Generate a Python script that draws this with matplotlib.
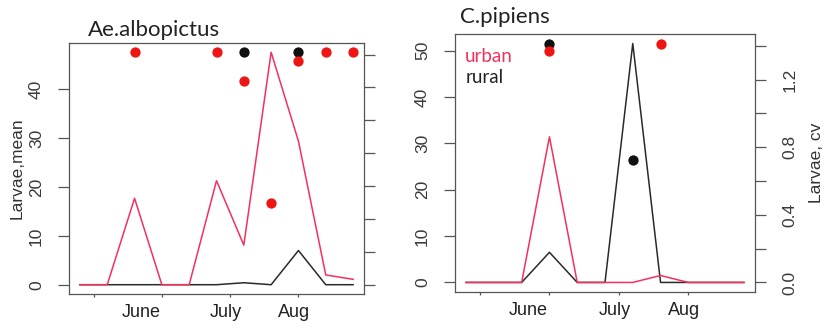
import numpy as np
import matplotlib
matplotlib.use("Agg")
import matplotlib.pyplot as plt

plt.rcParams['font.family'] = ['Liberation Sans', 'DejaVu Sans']

nan = np.nan
sample = list(range(1, 12))

# Ae.albopictus
albo_urban_mean = [0, 0, 17.7, 0, 0, 21.3, 8.1, 47.6, 29.4, 2.0, 1.1]
albo_rural_mean = [0, 0, 0, 0, 0, 0, 0.4, 0, 7.0, 0, 0]
albo_urban_cv = [nan, nan, 1.414, nan, nan, 1.414, 1.238, 0.5, 1.364, 1.414, 1.414]
albo_rural_cv = [nan, nan, nan, nan, nan, nan, 1.414, nan, 1.414, nan, nan]

# C.pipiens
pip_urban_mean = [0, 0, 0, 31.4, 0, 0, 0, 1.5, 0, 0, 0]
pip_rural_mean = [0, 0, 0, 6.5, 0, 0, 51.5, 0, 0, 0, 0]
pip_urban_cv = [nan, nan, nan, 1.367, nan, nan, nan, 1.412, nan, nan, nan]
pip_rural_cv = [nan, nan, nan, 1.414, nan, nan, 0.726, nan, nan, nan, nan]

month_ticks = [1.5, 4, 6.5, 9]
month_pos = [3.25, 6.35, 8.85]
month_labels = ["June", "July", "Aug"]
cv_ticks = [0.0, 0.2, 0.4, 0.6, 0.8, 1.0, 1.2, 1.4]

line_red = "#f4305c"
dot_red = "#ee1515"
dark = "#2a2a2a"
axcol = "#555555"

fig = plt.figure(figsize=(8.26, 3.32), dpi=100)


def panel(rect, title, title_xy, urban_m, rural_m, urban_cv, rural_cv,
          yticks, cv_labels, ylab=None, cvlab=None, legend=False):
    ax = fig.add_axes(rect)
    ax.plot(sample, rural_m, color=dark, lw=1.1)
    ax.plot(sample, urban_m, color=line_red, lw=1.1)
    top = max(max(urban_m), max(rural_m))
    ax.set_xlim(0.6, 11.4)
    ax.set_ylim(-0.04 * top, top * 1.04)
    ax.set_yticks(yticks)
    ax.set_yticklabels([str(t) for t in yticks], rotation=90, va='center')
    ax.tick_params(axis='y', length=8, width=0.9, color=axcol, pad=10,
                   labelsize=12.5, labelcolor='#3a3a3a')
    ax.set_xticks(month_ticks)
    ax.set_xticklabels([])
    ax.tick_params(axis='x', length=2, width=0.9, color=axcol)
    for m, lab in zip(month_pos, month_labels):
        ax.annotate(lab, (m, 0), xycoords=('data', 'axes fraction'),
                    xytext=(0, -7), textcoords='offset points',
                    ha='center', va='top', fontsize=13, color='#222222')
    for s in ax.spines.values():
        s.set_color(axcol)
        s.set_linewidth(0.9)
    if ylab:
        ax.set_ylabel(ylab, fontsize=12.5, labelpad=3, color='#333333')

    ax2 = ax.twinx()
    ax2.scatter(sample, rural_cv, s=55, color='#111111', zorder=3, lw=0)
    ax2.scatter(sample, urban_cv, s=55, color=dot_red, zorder=4, lw=0)
    ax2.set_ylim(-0.04 * 1.414, 1.414 * 1.04)
    ax2.set_yticks(cv_ticks)
    if cv_labels:
        ax2.set_yticklabels(["0.0" if t == 0 else (f"{t:.1f}" if round(t * 10) % 4 == 0 else "")
                             for t in cv_ticks], rotation=90, va='center')
    else:
        ax2.set_yticklabels([])
    ax2.tick_params(axis='y', length=8, width=0.9, color=axcol, pad=12,
                    labelsize=12.5, labelcolor='#3a3a3a')
    for s in ax2.spines.values():
        s.set_visible(False)
    if cvlab:
        ax2.set_ylabel(cvlab, fontsize=12.5, labelpad=8, color='#333333')

    fig.text(title_xy[0], title_xy[1], title, fontsize=16, family='Lato',
             color='#222222', ha='left', va='baseline')
    if legend:
        ax.annotate("urban", (0, 1), xycoords='axes fraction', xytext=(7, -16),
                    textcoords='offset points', ha='left', va='center',
                    fontsize=13.5, family='Lato', color=line_red)
        ax.annotate("rural", (0, 1), xycoords='axes fraction', xytext=(8, -31),
                    textcoords='offset points', ha='left', va='center',
                    fontsize=13.5, family='Lato', color='#222222')
    return ax


panel([69 / 826, 38 / 332, 295 / 826, 251 / 332], "Ae.albopictus",
      (88 / 826, 1 - 36 / 332), albo_urban_mean, albo_rural_mean,
      albo_urban_cv, albo_rural_cv, [0, 10, 20, 30, 40], False,
      ylab="Larvae,mean")

panel([455 / 826, 40 / 332, 300 / 826, 258 / 332], "C.pipiens",
      (460 / 826, 1 - 23 / 332), pip_urban_mean, pip_rural_mean,
      pip_urban_cv, pip_rural_cv, [0, 10, 20, 30, 40, 50], True,
      cvlab="Larvae, cv", legend=True)

fig.savefig("out.png", dpi=100)
